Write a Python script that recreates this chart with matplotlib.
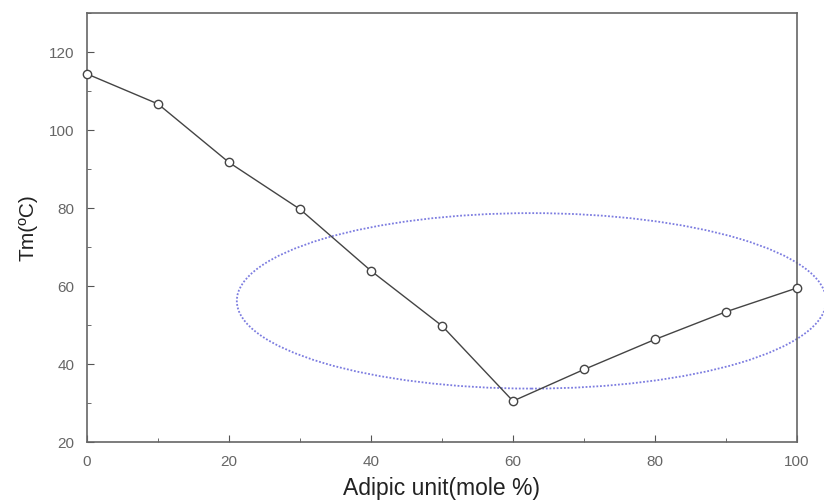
import matplotlib.pyplot as plt
from matplotlib.patches import Ellipse

plt.rcParams['font.family'] = ['Liberation Sans', 'DejaVu Sans']

# данные: содержание адипиновых звеньев и температура плавления
adipic = [0, 10, 20, 30, 40, 50, 60, 70, 80, 90, 100]
tm = [114.4, 106.7, 91.7, 79.7, 63.9, 49.8, 30.5, 38.6, 46.3, 53.4, 59.5]

# эллипс, выделяющий область вокруг минимума
ell_center = (62.6, 56.2)
ell_size = (83.0, 45.0)

fig = plt.figure(figsize=(8.24, 5.04), dpi=100)
ax = fig.add_axes([0.1056, 0.123, 0.8616, 0.851])

ax.plot(adipic, tm, color='#444444', lw=1.0, marker='o', ms=6,
        mfc='white', mec='#444444', mew=1.0, clip_on=False, zorder=3)

ell = Ellipse(ell_center, ell_size[0], ell_size[1], fill=False,
              ec='#7c7ce0', lw=1.3, ls=(0, (1, 1)), clip_on=False, zorder=2)
ax.add_patch(ell)

ax.set_xlim(0, 100)
ax.set_ylim(20, 130)
ax.set_xticks(range(0, 101, 20))
ax.set_xticks(range(0, 101, 10), minor=True)
ax.set_yticks(range(20, 121, 20))
ax.set_yticks(range(20, 131, 10), minor=True)

ax.tick_params(which='both', direction='in', colors='#555555', labelcolor='#666666',
               labelsize=11)
ax.tick_params(which='major', length=5)
ax.tick_params(which='minor', length=3)
ax.tick_params(axis='x', which='major', pad=9)
ax.tick_params(axis='y', which='major', pad=9)
for s in ax.spines.values():
    s.set_color('#666666')
    s.set_linewidth(1.2)

ax.set_xlabel('Adipic unit(mole %)', fontsize=16.5, color='#222222', labelpad=6)
ax.set_ylabel('Tm(ºC)', fontsize=15, color='#222222', labelpad=8)

plt.savefig('out.png', dpi=100)
